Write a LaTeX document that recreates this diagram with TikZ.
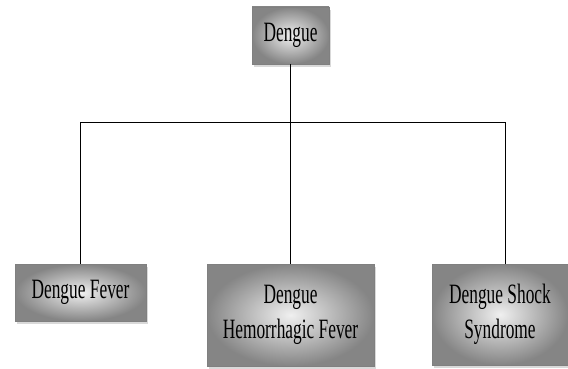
\documentclass[tikz,border=0pt]{standalone}
\usepackage{fontspec}
\newfontfamily\boxfont[FakeStretch=0.62]{Liberation Serif}
\usetikzlibrary{positioning,shadows}
\tikzset{
  type/.style={draw=black!50, line width=0.6pt, inner color=black!6, outer color=black!48, inner sep=0pt, align=center, font=\boxfont\fontsize{28}{35}\selectfont, drop shadow={opacity=0.3, shadow xshift=2pt, shadow yshift=-3pt}},
  link/.style={line width=1pt, draw=black}
}

\begin{document}
\begin{tikzpicture}[x=1pt,y=-1pt]
  \useasboundingbox (0,0) rectangle (568,369);
  \node[type, minimum width=77pt, minimum height=57pt] (dengue) at (290.5,35.5) {Dengue};
  \node[type, minimum width=131pt, minimum height=57pt] (df) at (80.5,292.5) {Dengue Fever};
  \node[type, minimum width=167pt, minimum height=102pt] (dhf) at (290.5,315) {Dengue\\Hemorrhagic Fever};
  \node[type, minimum width=136pt, minimum height=101pt] (dss) at (500,314.5) {Dengue Shock\\Syndrome};

  \coordinate (bar) at (290.5,122);
  \coordinate (barl) at (80.5,122);
  \coordinate (barr) at (505,122);

  \draw[link] (dengue) -- (bar);
  \draw[link] (barl) -- (barr);
  \draw[link] (barl) -- (df);
  \draw[link] (bar) -- (dhf);
  \draw[link] (barr) -- (barr |- dss.north);
\end{tikzpicture}
\end{document}
